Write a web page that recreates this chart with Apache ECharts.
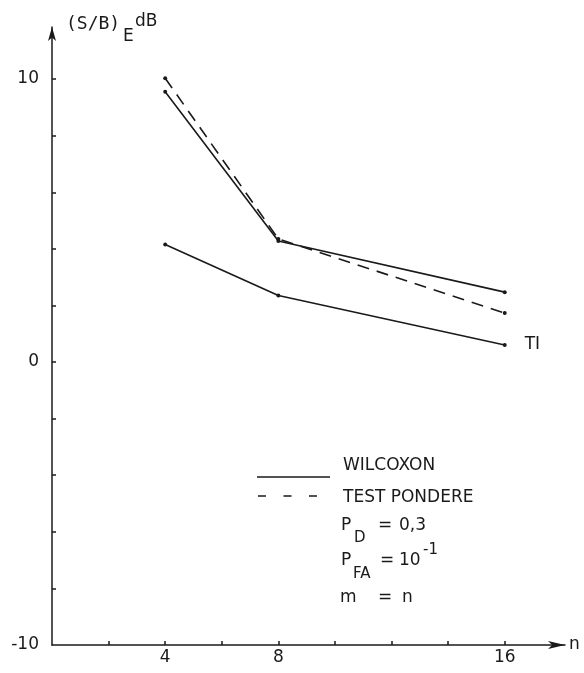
<!DOCTYPE html>
<html>
<head>
<meta charset="utf-8">
<script src="https://cdn.jsdelivr.net/npm/echarts@6/dist/echarts.min.js"></script>
<style>
html,body{margin:0;padding:0;background:#fff;}
#chart{width:584px;height:673px;}
</style>
</head>
<body>
<div id="chart"></div>
<script>
// ---- data ----
const nValues = [4, 8, 16];
const wilcoxon = [9.55, 4.28, 2.47];
const testPondere = [10.03, 4.35, 1.73];
const tiValues = [4.15, 2.35, 0.6];
const xTickValues = [2, 4, 6, 8, 10, 12, 14, 16];
const xLabelValues = [4, 8, 16];
const yTickValues = [-8, -6, -4, -2, 0, 2, 4, 6, 8, 10];
const yLabelValues = [-10, 0, 10];

const FONT = 'DejaVu Sans';
const MONO = 'DejaVu Sans Mono';
const INK = '#1a1a1a';

const pairs = (vals) => nValues.map((n, i) => [n, vals[i]]);

const chart = echarts.init(document.getElementById('chart'), null, {renderer: 'canvas'});

function txt(text, x, y, size, family) {
  return {
    type: 'text', x: x, y: y, silent: true,
    style: {text: text, fontFamily: family || FONT, fontSize: size, fill: INK, align: 'left', verticalAlign: 'middle'}
  };
}

const option = {
  backgroundColor: '#fff',
  animation: false,
  grid: {left: 52, right: 19, top: 27, bottom: 28, containLabel: false},
  xAxis: {
    type: 'value', min: 0, max: 18.13, interval: 2,
    name: 'n', nameLocation: 'end', nameGap: 4,
    nameTextStyle: {fontFamily: FONT, fontSize: 17, color: INK, verticalAlign: 'middle', padding: [0, 0, 4, 0]},
    axisLine: {onZero: false, lineStyle: {color: INK, width: 1.5}, symbol: ['none', 'arrow'], symbolSize: [6, 17]},
    axisTick: {inside: true, length: 4, customValues: xTickValues, lineStyle: {color: INK, width: 1.5}},
    axisLabel: {customValues: xLabelValues, margin: 4, fontFamily: FONT, fontSize: 17, color: INK},
    splitLine: {show: false}
  },
  yAxis: {
    type: 'value', min: -10, max: 11.84, interval: 2,
    axisLine: {onZero: false, lineStyle: {color: INK, width: 1.5}, symbol: ['none', 'arrow'], symbolSize: [6, 14]},
    axisTick: {inside: true, length: 4, customValues: yTickValues, lineStyle: {color: INK, width: 1.5}},
    axisLabel: {customValues: yLabelValues, margin: 13, fontFamily: FONT, fontSize: 17, color: INK},
    splitLine: {show: false}
  },
  series: [
    {
      name: 'WILCOXON', type: 'line', data: pairs(wilcoxon),
      symbol: 'circle', symbolSize: 4,
      lineStyle: {color: INK, width: 1.6}, itemStyle: {color: INK}
    },
    {
      name: 'TEST PONDERE', type: 'line', data: pairs(testPondere),
      symbol: 'circle', symbolSize: 4,
      lineStyle: {color: INK, width: 1.6, type: [12, 8]}, itemStyle: {color: INK}
    },
    {
      name: 'TI', type: 'line', data: pairs(tiValues),
      symbol: 'circle', symbolSize: 4,
      lineStyle: {color: INK, width: 1.6}, itemStyle: {color: INK},
      endLabel: {show: true, formatter: 'TI', distance: 20, fontFamily: FONT, fontSize: 17, color: INK}
    }
  ],
  graphic: [
    // axis title (S/B)_E dB
    txt('(S/B)', 66, 24, 18, MONO),
    txt('E', 123, 37, 17),
    txt('dB', 135, 22, 17),
    // legend samples
    {type: 'line', silent: true, shape: {x1: 257, y1: 477, x2: 330, y2: 477}, style: {stroke: INK, lineWidth: 1.5}},
    {type: 'line', silent: true, shape: {x1: 258, y1: 496, x2: 317, y2: 496}, style: {stroke: INK, lineWidth: 1.5, lineDash: [8, 17.5]}},
    txt('WILCOXON', 343, 466, 17),
    txt('TEST PONDERE', 343, 498, 17),
    // parameters
    txt('P', 341, 526, 17), txt('D', 354, 538, 15), txt('=', 378, 526, 17), txt('0,3', 399, 526, 17),
    txt('P', 341, 561, 17), txt('FA', 353, 574, 15), txt('=', 380, 561, 17), txt('10', 399, 561, 17), txt('-1', 423, 550, 15),
    txt('m', 340, 598, 17), txt('=', 378, 598, 17), txt('n', 402, 598, 17)
  ]
};

chart.setOption(option);
</script>
</body>
</html>
